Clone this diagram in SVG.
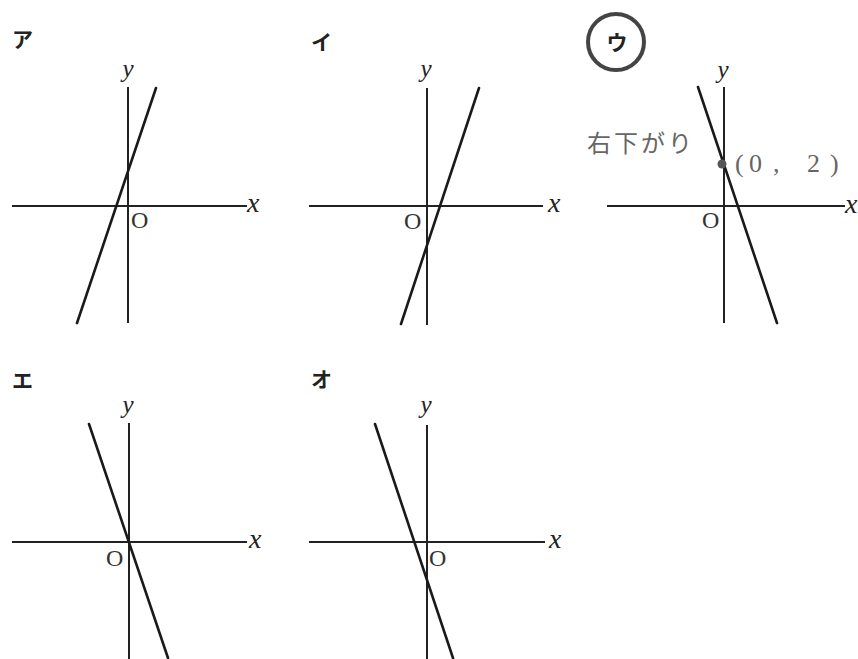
<svg xmlns="http://www.w3.org/2000/svg" width="858" height="659" viewBox="0 0 858 659">
<style>
.ax{stroke:#222;stroke-width:2;fill:none}
.gl{stroke:#1a1a1a;stroke-width:2.6;fill:none;stroke-linecap:round}
.lbl{font-family:"Noto Sans CJK JP","Noto Sans",sans-serif;font-size:21px;font-weight:bold;fill:#222}
.var{font-family:"Liberation Serif","DejaVu Serif",serif;font-style:italic;fill:#222}
.vy{font-size:25px;text-anchor:middle}
.vx{font-size:28px}
.o{font-family:"Liberation Serif","DejaVu Serif",serif;font-size:24px;fill:#333}
.note{font-family:"Noto Sans CJK JP","Noto Sans",sans-serif;font-size:24px;fill:#666}
.coord{font-family:"Liberation Serif","DejaVu Serif",serif;font-size:26px;fill:#666}
</style>
<rect width="858" height="659" fill="#fff"/>

<g id="panel-a">
<text class="lbl" x="12" y="47">ア</text>
<line class="ax" x1="128" y1="87" x2="128" y2="323"/>
<line class="ax" x1="12" y1="206" x2="247" y2="206"/>
<text class="var vy" x="128" y="77">y</text>
<text class="var vx" x="247" y="212">x</text>
<text class="o" x="131" y="228">O</text>
<line class="gl" x1="156" y1="88" x2="77" y2="323"/>
</g>

<g id="panel-i">
<text class="lbl" x="311" y="50">イ</text>
<line class="ax" x1="427" y1="88" x2="427" y2="325"/>
<line class="ax" x1="309" y1="206" x2="543" y2="206"/>
<text class="var vy" x="426" y="77">y</text>
<text class="var vx" x="548" y="212">x</text>
<text class="o" x="404" y="229">O</text>
<line class="gl" x1="479" y1="88" x2="401" y2="324"/>
</g>

<g id="panel-u">
<circle cx="616" cy="42" r="28" fill="none" stroke="#444" stroke-width="4"/>
<text class="lbl" x="617" y="50" text-anchor="middle">ウ</text>
<line class="ax" x1="724" y1="87" x2="724" y2="323"/>
<line class="ax" x1="607" y1="206" x2="845" y2="206"/>
<text class="var vy" x="723" y="78">y</text>
<text class="var vx" x="845" y="213">x</text>
<text class="o" x="702" y="228">O</text>
<line class="gl" x1="698" y1="87" x2="777" y2="323"/>
<circle cx="722" cy="164" r="4.5" fill="#555"/>
<text class="note" x="587" y="152" letter-spacing="3">右下がり</text>
<text class="coord" x="735 749 773 807 830" y="172">(0,2)</text>
</g>

<g id="panel-e">
<text class="lbl" x="12" y="388">エ</text>
<line class="ax" x1="129" y1="423" x2="129" y2="659"/>
<line class="ax" x1="12" y1="542" x2="247" y2="542"/>
<text class="var vy" x="128" y="413">y</text>
<text class="var vx" x="249" y="548">x</text>
<text class="o" x="106" y="566">O</text>
<line class="gl" x1="89" y1="424" x2="168" y2="658"/>
</g>

<g id="panel-o">
<text class="lbl" x="311" y="387">オ</text>
<line class="ax" x1="427" y1="425" x2="427" y2="659"/>
<line class="ax" x1="309" y1="542" x2="545" y2="542"/>
<text class="var vy" x="426" y="413">y</text>
<text class="var vx" x="549" y="548">x</text>
<text class="o" x="429" y="566">O</text>
<line class="gl" x1="375" y1="424" x2="453" y2="658"/>
</g>
</svg>
